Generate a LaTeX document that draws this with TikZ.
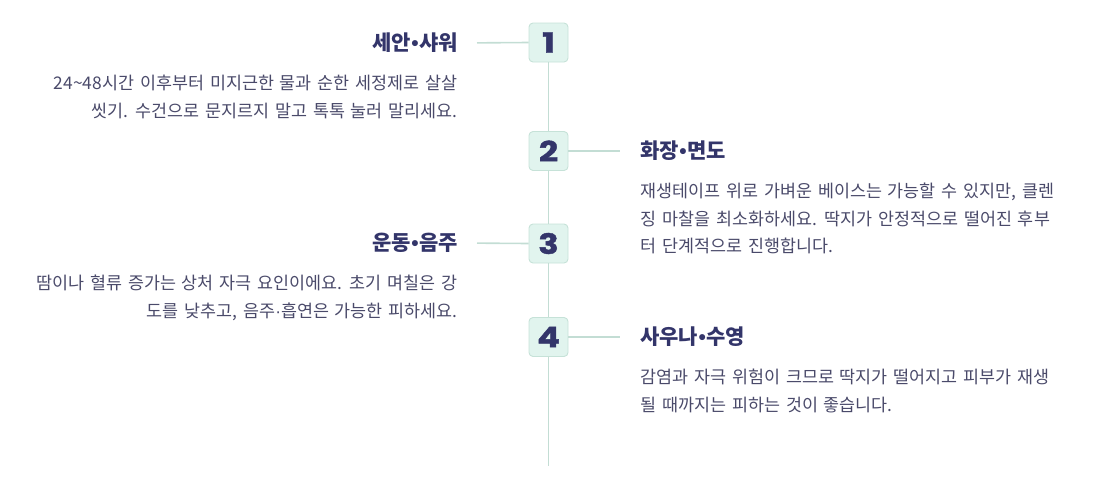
\documentclass[tikz,border=0pt]{standalone}
\usepackage{fontspec}
\setmainfont{Noto Sans CJK KR}
\newfontfamily\numfont{Poppins}[FakeStretch=1.2,FakeBold=1.5]
\newfontfamily\latinf{Liberation Sans}
\newcommand{\bdot}{{\latinf\bfseries\kern0.5pt•\kern0.5pt}}
\newcommand{\mdot}{{\latinf·}}
\newcommand{\bodyfnt}{\fontsize{17.4}{27.5}\selectfont\spaceskip=0.34em plus 0.1em\relax}
\definecolor{navy}{HTML}{33356A}
\definecolor{bodyc}{HTML}{4A4A6A}
\definecolor{linec}{HTML}{C3DDD4}
\definecolor{boxfill}{HTML}{E1F4EE}
\definecolor{boxdraw}{HTML}{C6E2D8}
\tikzset{
  numbox/.style={draw=boxdraw, fill=boxfill, line width=0.9pt, rounded corners=4pt, minimum width=39pt, minimum height=39pt, inner sep=0pt, text=navy, font=\numfont\bfseries\fontsize{28}{28}\selectfont},
  conn/.style={draw=linec, line width=1.6pt},
  title/.style={text=navy, inner sep=0pt, font=\bfseries\fontsize{21}{22}\selectfont},
  bodyl/.style={text=bodyc, inner sep=0pt, align=right, anchor=north east, font=\bodyfnt},
  bodyr/.style={text=bodyc, inner sep=0pt, align=left, anchor=north west, font=\bodyfnt}
}
\begin{document}
\begin{tikzpicture}[x=1pt,y=-1pt]
\useasboundingbox (0,0) rectangle (1114,485);
\node[numbox] (b1) at (548.5,42.5) {1};
\node[numbox] (b2) at (548.5,151) {2};
\node[numbox] (b3) at (548.5,243.5) {3};
\node[numbox] (b4) at (548.5,337) {4};
\coordinate (end) at (548.5,466);
\draw[conn] (b1.south) -- (b2.north);
\draw[conn] (b2.south) -- (b3.north);
\draw[conn] (b3.south) -- (b4.north);
\draw[conn] (b4.south) -- (end);

\node[title, anchor=east] (t1) at (458,43) {세안\bdot 샤워};
\node[title, anchor=west] (t2) at (640,151) {화장\bdot 면도};
\node[title, anchor=east] (t3) at (458,243) {운동\bdot 음주};
\node[title, anchor=west] (t4) at (640,337) {사우나\bdot 수영};

\draw[conn, shorten >=19pt] (b1.west) -- (t1.east);
\draw[conn, shorten >=20pt] (b2.east) -- (t2.west);
\draw[conn, shorten >=19pt] (b3.west) -- (t3.east);
\draw[conn, shorten >=20pt] (b4.east) -- (t4.west);

\node[bodyl] (d1) at (458,75) {24\textasciitilde48시간 이후부터 미지근한 물과 순한 세정제로 살살\\씻기. 수건으로 문지르지 말고 톡톡 눌러 말리세요.};
\node[bodyr] (d2) at (640,183) {재생테이프 위로 가벼운 베이스는 가능할 수 있지만, 클렌\\징 마찰을 최소화하세요. 딱지가 안정적으로 떨어진 후부\\터 단계적으로 진행합니다.};
\node[bodyl] (d3) at (458,275) {땀이나 혈류 증가는 상처 자극 요인이에요. 초기 며칠은 강\\도를 낮추고, 음주\mdot 흡연은 가능한 피하세요.};
\node[bodyr] (d4) at (640,369) {감염과 자극 위험이 크므로 딱지가 떨어지고 피부가 재생\\될 때까지는 피하는 것이 좋습니다.};
\end{tikzpicture}
\end{document}
